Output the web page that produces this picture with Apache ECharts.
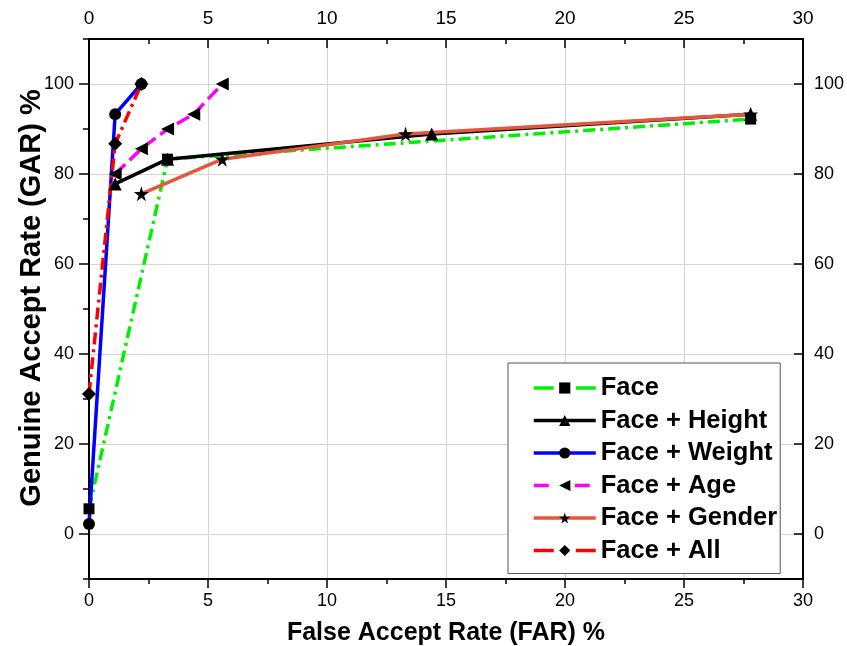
<!DOCTYPE html>
<html>
<head>
<meta charset="utf-8">
<script src="https://cdn.jsdelivr.net/npm/echarts@6/dist/echarts.min.js"></script>
<style>
  html, body { margin: 0; padding: 0; background: #fff; }
  #chart { width: 847px; height: 646px; }
</style>
</head>
<body>
<div id="chart"></div>
<script>
// FAR (%) / GAR (%) operating points for each fusion scheme
const seriesNames = ['Face', 'Face + Height', 'Face + Weight', 'Face + Age', 'Face + Gender', 'Face + All'];

const faceFAR = [0, 3.3, 27.8];
const faceGAR = [5.6, 83.3, 92.2];

const heightFAR = [1.1, 3.3, 14.4, 27.8];
const heightGAR = [77.8, 83.3, 88.9, 93.3];

const weightFAR = [0, 1.1, 2.2];
const weightGAR = [2.2, 93.3, 100];

const ageFAR = [1.1, 2.2, 3.3, 4.4, 5.6];
const ageGAR = [80, 85.6, 90, 93.3, 100];

const genderFAR = [2.2, 5.6, 13.3, 27.8];
const genderGAR = [75.6, 83.3, 88.9, 93.3];

const allFAR = [0, 1.1, 2.2];
const allGAR = [31.1, 86.7, 100];

// axis ticks
const yMajorTicks = [0, 20, 40, 60, 80, 100];

const FONT = '"Liberation Sans", Arial, sans-serif';
const NARROW = '"Liberation Sans Narrow", "Arial Narrow", "Liberation Sans", sans-serif';
const axisLine = { show: true, onZero: false, lineStyle: { color: '#000', width: 2 } };
const tickLine = { color: '#000', width: 1.5 };
const gridLine = { show: true, lineStyle: { color: '#d4d4d4', width: 1 } };

const STAR = 'path://M50,0 L61,35 L98,35 L68,57 L79,91 L50,70 L21,91 L32,57 L2,35 L39,35 Z';

function pairs(xs, ys) { return xs.map((x, i) => [x, ys[i]]); }

function lineSeries(name, xs, ys, color, dash, symbol, size, rotate) {
  return {
    name: name,
    type: 'line',
    data: pairs(xs, ys),
    xAxisIndex: 0,
    yAxisIndex: 0,
    symbol: symbol,
    symbolSize: size,
    symbolRotate: rotate || 0,
    showSymbol: true,
    clip: false,
    lineStyle: { color: color, width: 3.5, type: dash },
    itemStyle: { color: '#000' },
    emphasis: { disabled: true },
    animation: false
  };
}

// legend keys: short line pieces either side of the marker
function legendItem(name, color, dash) {
  return { name: name, lineStyle: { color: color, width: 3.5, type: dash } };
}

const chart = echarts.init(document.getElementById('chart'), null, { renderer: 'canvas' });

chart.setOption({
  backgroundColor: '#fff',
  animation: false,
  grid: { left: 89, right: 44, top: 39, bottom: 67, containLabel: false, outerBoundsMode: 'none' },
  legend: {
    data: [
      legendItem(seriesNames[0], '#00F000', [20, 22]),
      legendItem(seriesNames[1], '#000000', 'solid'),
      legendItem(seriesNames[2], '#0000FF', 'solid'),
      legendItem(seriesNames[3], '#FF00FF', [15, 26]),
      legendItem(seriesNames[4], '#E5573C', 'solid'),
      legendItem(seriesNames[5], '#FF0000', [20, 22])
    ],
    orient: 'vertical',
    left: 508,
    top: 363,
    padding: [12, 3, 10, 24],
    itemWidth: 62,
    itemHeight: 14,
    itemGap: 6.5,
    borderColor: '#555',
    borderWidth: 1,
    backgroundColor: '#fff',
    selectedMode: false,
    textStyle: { fontFamily: FONT, fontSize: 25.5, fontWeight: 'bold', color: '#000' }
  },
  xAxis: [
    {
      type: 'value', position: 'bottom', min: 0, max: 30, interval: 5,
      axisLine: axisLine,
      axisTick: { show: true, inside: false, length: 9, lineStyle: tickLine },
      minorTick: { show: true, splitNumber: 2, length: 5, lineStyle: tickLine },
      axisLabel: { fontFamily: FONT, fontSize: 18, color: '#000', margin: 13 },
      splitLine: gridLine,
      name: 'False Accept Rate (FAR) %',
      nameLocation: 'middle',
      nameMoveOverlap: false,
      nameGap: 42,
      nameTextStyle: { fontFamily: FONT, fontSize: 25, fontWeight: 'bold', color: '#000' }
    },
    {
      type: 'value', position: 'top', min: 0, max: 30, interval: 5,
      axisLine: axisLine,
      axisTick: { show: true, inside: true, length: 9, lineStyle: tickLine },
      minorTick: { show: true, splitNumber: 2, length: 5, lineStyle: tickLine },
      axisLabel: { fontFamily: NARROW, fontSize: 19, color: '#000', margin: 11 },
      splitLine: { show: false }
    }
  ],
  yAxis: [
    {
      type: 'value', position: 'left', min: -10, max: 110,
      axisLine: axisLine,
      axisTick: { show: true, inside: false, length: 10, customValues: yMajorTicks, lineStyle: tickLine },
      axisLabel: { fontFamily: FONT, fontSize: 18, color: '#000', margin: 15, customValues: yMajorTicks },
      splitLine: gridLine,
      name: 'Genuine Accept Rate (GAR) %',
      nameLocation: 'middle',
      nameMoveOverlap: false,
      nameGap: 43,
      nameRotate: 90,
      nameTextStyle: { fontFamily: FONT, fontSize: 29, fontWeight: 'bold', color: '#000', padding: [0, 0, 0, 22] }
    },
    {
      type: 'value', position: 'right', min: -10, max: 110,
      axisLine: axisLine,
      axisTick: { show: true, inside: true, length: 9, customValues: yMajorTicks, lineStyle: tickLine },
      axisLabel: { fontFamily: FONT, fontSize: 18, color: '#000', margin: 11, customValues: yMajorTicks },
      splitLine: { show: false }
    },
    {
      // minor ticks, left side
      type: 'value', position: 'left', min: -10, max: 110, interval: 20,
      axisLine: { show: false },
      axisTick: { show: true, inside: false, length: 6, lineStyle: tickLine },
      axisLabel: { show: false },
      splitLine: { show: false }
    },
    {
      // minor ticks, right side
      type: 'value', position: 'right', min: -10, max: 110, interval: 20,
      axisLine: { show: false },
      axisTick: { show: true, inside: true, length: 5, lineStyle: tickLine },
      axisLabel: { show: false },
      splitLine: { show: false }
    }
  ],
  series: [
    lineSeries(seriesNames[0], faceFAR, faceGAR, '#00F000', [12, 5, 3, 5], 'rect', 11),
    lineSeries(seriesNames[1], heightFAR, heightGAR, '#000000', 'solid', 'triangle', 13),
    lineSeries(seriesNames[2], weightFAR, weightGAR, '#0000FF', 'solid', 'circle', 12),
    lineSeries(seriesNames[3], ageFAR, ageGAR, '#FF00FF', [14, 6], 'triangle', 13, 90),
    lineSeries(seriesNames[4], genderFAR, genderGAR, '#E5573C', 'solid', STAR, 15),
    lineSeries(seriesNames[5], allFAR, allGAR, '#FF0000', [12, 5, 3, 5], 'diamond', 14)
  ]
});
</script>
</body>
</html>
